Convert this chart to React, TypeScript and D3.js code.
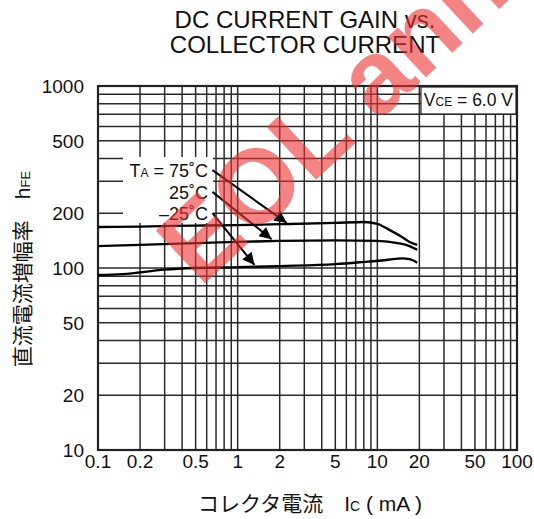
import React from "react";
import * as d3 from "d3";

const W = 534;
const H = 519;

const xTickValues = [0.1, 0.2, 0.5, 1, 2, 5, 10, 20, 50, 100];
const xTickLabels = ["0.1", "0.2", "0.5", "1", "2", "5", "10", "20", "50", "100"];
const yTickValues = [10, 20, 50, 100, 200, 500, 1000];
const yTickLabels = ["10", "20", "50", "100", "200", "500", "1000"];

// Collector current (mA) and DC current gain per ambient temperature
const ic75 = [0.1, 0.2, 0.5, 1, 2, 5, 8, 10, 12, 15, 17, 19.3];
const hfe75 = [168, 169, 171, 172, 174, 177, 179, 175, 163, 148, 139, 134];
const ic25 = [0.1, 0.2, 0.5, 1, 2, 5, 10, 14, 17, 19.3];
const hfe25 = [132, 134, 137, 139, 141, 142, 141, 137, 132, 126];
const icM25 = [0.1, 0.15, 0.3, 0.5, 1, 2, 5, 8, 12, 15, 17, 19.3];
const hfeM25 = [91.5, 92.5, 98, 100, 101, 102.5, 105, 108, 111, 113, 112, 107];

// arrow annotations [fromIc, fromHfe, toIc, toHfe]
const arrows = [
  [0.66, 345, 2.24, 177],
  [0.66, 262, 1.75, 144],
  [0.66, 200, 1.32, 104],
];

const sans = "'Liberation Sans', Arial, Helvetica, sans-serif";
const cjk = "'Noto Sans CJK JP', 'Liberation Sans', sans-serif";

export default function App() {
  const left = 98, right = 517, top = 86, bottom = 450;
  const x = d3.scaleLog().domain([0.1, 100]).range([left, right]);
  const y = d3.scaleLog().domain([10, 1000]).range([bottom, top]);

  const xGrid: number[] = [];
  for (let e = -1; e < 2; e++) for (let k = 1; k < 10; k++) xGrid.push(k * Math.pow(10, e));
  const yGrid: number[] = [];
  for (let e = 1; e < 3; e++) for (let k = 1; k < 10; k++) yGrid.push(k * Math.pow(10, e));

  const line = d3
    .line<[number, number]>()
    .x((d) => x(d[0]))
    .y((d) => y(d[1]))
    .curve(d3.curveMonotoneX);

  const series = [
    ic75.map((v, i) => [v, hfe75[i]] as [number, number]),
    ic25.map((v, i) => [v, hfe25[i]] as [number, number]),
    icM25.map((v, i) => [v, hfeM25[i]] as [number, number]),
  ];

  return (
    <div style={{ position: "absolute", left: 0, top: 0 }}>
      <svg width={W} height={H} style={{ display: "block", background: "#fff" }}>
        <defs>
          <marker id="ah" viewBox="0 0 10 10" refX="10" refY="5" markerWidth="7" markerHeight="6" orient="auto" markerUnits="strokeWidth">
            <path d="M0,0 L10,5 L0,10 z" fill="#000" />
          </marker>
        </defs>
        {/* title */}
        <text x={305} y={28} textAnchor="middle" fontFamily={sans} fontSize={24} fill="#111">
          DC CURRENT GAIN vs.
        </text>
        <text x={305} y={53} textAnchor="middle" fontFamily={sans} fontSize={24} fill="#111">
          COLLECTOR CURRENT
        </text>

        {/* grid */}
        <g stroke="#2a2a2a" strokeWidth={1.5}>
          {xGrid.map((v, i) => (
            <line key={"x" + i} x1={x(v)} x2={x(v)} y1={top} y2={bottom} />
          ))}
          {yGrid.map((v, i) => (
            <line key={"y" + i} x1={left} x2={right} y1={y(v)} y2={y(v)} />
          ))}
        </g>
        <rect x={left} y={top} width={right - left} height={bottom - top} fill="none" stroke="#222" strokeWidth={2.2} />

        {/* VCE box */}
        <rect x={421} y={top + 1} width={right - 421 - 1} height={27} fill="#fff" stroke="#222" strokeWidth={1.2} />
        <text x={513} y={106} textAnchor="end" fontFamily={sans} fontSize={17.5} fill="#111">
          V<tspan fontSize={12}>CE</tspan> = 6.0 V
        </text>

        {/* temperature labels */}
        <rect x={123} y={157} width={90} height={66} fill="#fff" />
        <g fontFamily={sans} fontSize={18} fill="#111" textAnchor="end">
          <text x={208} y={177}>
            T<tspan fontSize={12}>A</tspan> = 75˚C
          </text>
          <text x={208} y={199}>25˚C</text>
          <text x={208} y={220}>–25˚C</text>
        </g>
        <g stroke="#000" strokeWidth={2}>
          {arrows.map((a, i) => (
            <line key={i} x1={x(a[0])} y1={y(a[1])} x2={x(a[2])} y2={y(a[3])} markerEnd="url(#ah)" />
          ))}
        </g>

        {/* curves */}
        <g fill="none" stroke="#000" strokeWidth={2.3}>
          {series.map((s, i) => (
            <path key={i} d={line(s) || ""} />
          ))}
        </g>

        {/* tick labels */}
        <g fontFamily={sans} fontSize={19} fill="#111">
          {yTickValues.map((v, i) => (
            <text key={i} x={84} y={y(v) + 7} textAnchor="end">
              {yTickLabels[i]}
            </text>
          ))}
          {xTickValues.map((v, i) => (
            <text key={i} x={x(v)} y={468} textAnchor="middle">
              {xTickLabels[i]}
            </text>
          ))}
        </g>

        {/* axis titles */}
        <text x={310} y={511} textAnchor="middle" fontFamily={cjk} fontSize={21} fill="#111">
          コレクタ電流　<tspan fontFamily={sans}>I<tspan fontSize={14}>C</tspan> ( mA )</tspan>
        </text>
        <text transform="translate(30,269) rotate(-90)" textAnchor="middle" fontFamily={cjk} fontSize={21} fill="#111">
          直流電流増幅率　<tspan fontFamily={sans}>h<tspan fontSize={13}>FE</tspan></tspan>
        </text>

        {/* watermark */}
        <text transform="translate(200,288) rotate(-43)" fontFamily={sans} fontWeight="bold" fontSize={105} fill="rgb(238,50,50)" opacity={0.6}>
          EOL announced
        </text>
      </svg>
    </div>
  );
}
